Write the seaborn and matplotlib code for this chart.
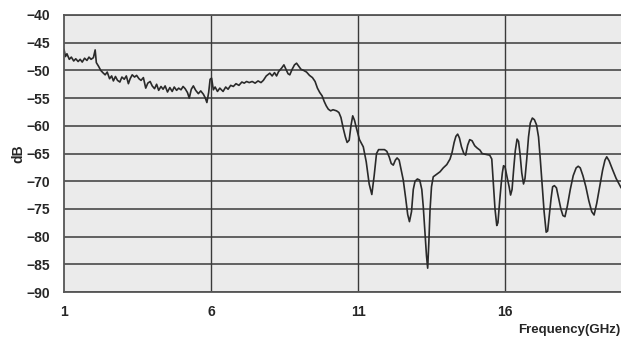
import numpy as np
import pandas as pd
import matplotlib
matplotlib.use("Agg")
import matplotlib.pyplot as plt
import seaborn as sns

freq = [1.00, 1.05, 1.10, 1.18, 1.25, 1.33, 1.40, 1.48, 1.55, 1.62, 1.70, 1.78,
        1.85, 1.92, 2.00, 2.06, 2.10, 2.18, 2.25, 2.32, 2.40, 2.47, 2.55, 2.62,
        2.68, 2.75, 2.82, 2.90, 2.97, 3.05, 3.12, 3.19, 3.25, 3.32, 3.40, 3.47,
        3.55, 3.62, 3.70, 3.78, 3.85, 3.93, 4.00, 4.08, 4.15, 4.22, 4.30, 4.37,
        4.44, 4.52, 4.60, 4.68, 4.75, 4.83, 4.90, 4.98, 5.05, 5.12, 5.20, 5.26,
        5.33, 5.40, 5.48, 5.57, 5.65, 5.74, 5.80, 5.86, 5.92, 5.97, 6.02, 6.08,
        6.14, 6.22, 6.30, 6.41, 6.50, 6.58, 6.67, 6.76, 6.85, 6.95, 7.05, 7.13,
        7.21, 7.30, 7.40, 7.50, 7.60, 7.70, 7.78, 7.88, 8.00, 8.08, 8.16, 8.23,
        8.30, 8.40, 8.48, 8.55, 8.62, 8.68, 8.76, 8.84, 8.91, 8.98, 9.06, 9.15,
        9.25, 9.35, 9.45, 9.54, 9.62, 9.70, 9.78, 9.85, 9.92, 9.99, 10.07, 10.15,
        10.27, 10.35, 10.42, 10.50, 10.57, 10.63, 10.70, 10.76, 10.82, 10.88, 10.95, 11.05,
        11.18, 11.28, 11.38, 11.47, 11.55, 11.63, 11.70, 11.80, 11.90, 11.98, 12.06, 12.13,
        12.20, 12.27, 12.33, 12.40, 12.47, 12.54, 12.62, 12.69, 12.75, 12.82, 12.88, 12.94,
        13.02, 13.10, 13.17, 13.22, 13.28, 13.33, 13.37, 13.41, 13.45, 13.50, 13.56, 13.66,
        13.79, 13.90, 14.02, 14.13, 14.20, 14.27, 14.33, 14.39, 14.45, 14.52, 14.60, 14.66,
        14.73, 14.80, 14.88, 14.97, 15.05, 15.15, 15.22, 15.30, 15.40, 15.48, 15.55, 15.60,
        15.66, 15.72, 15.76, 15.82, 15.87, 15.91, 15.95, 16.00, 16.04, 16.08, 16.14, 16.19,
        16.24, 16.30, 16.35, 16.41, 16.46, 16.51, 16.57, 16.63, 16.68, 16.74, 16.80, 16.86,
        16.93, 17.00, 17.07, 17.14, 17.20, 17.27, 17.33, 17.40, 17.45, 17.51, 17.57, 17.62,
        17.68, 17.75, 17.82, 17.90, 17.97, 18.04, 18.12, 18.22, 18.32, 18.42, 18.49, 18.56,
        18.65, 18.75, 18.85, 18.95, 19.03, 19.12, 19.22, 19.32, 19.40, 19.46, 19.54, 19.65,
        19.78, 19.95]
level_db = [-46.2, -47.5, -47.0, -48.0, -47.6, -48.3, -47.9, -48.4, -48.0, -48.5, -47.8, -48.2,
            -47.6, -48.0, -47.7, -46.3, -48.6, -49.3, -50.0, -50.4, -50.8, -50.3, -51.5, -51.0,
            -51.9, -51.1, -51.8, -52.1, -51.2, -51.6, -51.0, -52.4, -51.5, -50.8, -51.2, -50.9,
            -51.5, -51.8, -51.3, -53.2, -52.3, -52.0, -52.8, -53.3, -52.5, -53.6, -52.9, -53.4,
            -52.8, -53.9, -53.1, -53.8, -53.0, -53.6, -53.2, -53.5, -52.9, -53.3, -54.0, -55.0,
            -53.4, -52.8, -53.6, -54.2, -53.7, -54.3, -54.9, -55.8, -54.0, -51.6, -51.4, -53.5,
            -53.0, -53.8, -53.2, -53.8, -53.0, -53.4, -52.7, -52.9, -52.4, -52.7, -52.1, -52.3,
            -52.0, -52.2, -52.0, -52.3, -51.9, -52.2, -51.8, -51.0, -50.5, -51.0, -50.4, -51.0,
            -50.2, -49.6, -49.0, -49.8, -50.6, -50.8, -49.8, -49.0, -48.7, -49.2, -49.8, -50.0,
            -50.3, -50.9, -51.3, -52.0, -53.2, -54.0, -54.6, -55.6, -56.4, -57.0, -57.3, -57.1,
            -57.3, -57.6, -58.5, -60.5, -62.0, -63.0, -62.6, -60.0, -58.2, -59.0, -60.5, -62.5,
            -63.8, -66.5, -70.5, -72.4, -69.0, -65.0, -64.3, -64.3, -64.3, -64.6, -65.6, -66.8,
            -67.1, -66.2, -65.8, -66.2, -68.0, -69.8, -73.0, -76.0, -77.3, -75.5, -71.5, -70.0,
            -69.6, -69.8, -71.5, -74.6, -79.5, -83.5, -85.7, -81.0, -75.2, -71.0, -69.2, -68.8,
            -68.3, -67.6, -67.0, -66.0, -64.8, -63.0, -61.9, -61.5, -62.2, -63.8, -65.0, -65.3,
            -63.5, -62.5, -62.7, -63.6, -64.0, -64.4, -65.0, -65.1, -65.2, -65.3, -66.0, -70.0,
            -75.0, -78.0, -77.5, -73.5, -70.5, -68.5, -67.2, -67.4, -68.5, -69.5, -71.0, -72.5,
            -71.5, -67.5, -64.5, -62.4, -62.8, -65.0, -68.5, -70.5, -69.5, -66.0, -62.0, -59.5,
            -58.6, -58.9, -59.8, -62.0, -66.0, -71.0, -75.5, -79.2, -79.0, -76.0, -73.0, -71.0,
            -70.8, -71.2, -73.0, -75.0, -76.2, -76.4, -74.5, -71.5, -69.0, -67.6, -67.3, -67.6,
            -69.0, -71.0, -73.5, -75.5, -76.1, -74.0, -71.0, -68.0, -66.2, -65.6, -66.3, -67.8,
            -69.5, -71.2]

x_ticks = [1, 6, 11, 16]
y_ticks = list(range(-90, -35, 5))

df = pd.DataFrame({"freq": freq, "dB": level_db})

sns.set_style("white")
plt.rcParams["font.family"] = ["Liberation Sans", "DejaVu Sans"]

fig = plt.figure(figsize=(6.21, 3.38), dpi=100)
ax = fig.add_axes([64 / 621, 46 / 338, 557 / 621, 277 / 338])
ax.set_facecolor("#ebebeb")

sns.lineplot(data=df, x="freq", y="dB", ax=ax, color="#2a2a2a", linewidth=1.2)

ax.set_xlim(1, 1 + 557 / 29.4)
ax.set_ylim(-90, -40)
ax.set_xticks(x_ticks)
ax.set_yticks(y_ticks)
ax.set_xticklabels([str(t) for t in x_ticks], fontsize=10, fontweight="bold")
ax.set_yticklabels([f"\u2212{abs(t)}" for t in y_ticks], fontsize=10, fontweight="bold")
ax.tick_params(axis="y", length=0, pad=10)
ax.tick_params(axis="x", length=0, pad=9)

for y in y_ticks:
    ax.axhline(y, color="#555555", linewidth=1.3, zorder=1)
for x in x_ticks[1:]:
    ax.axvline(x, color="#3a3a3a", linewidth=1.0, zorder=1)

for side in ["left", "bottom", "top"]:
    ax.spines[side].set_color("#555555")
    ax.spines[side].set_linewidth(1.3)
ax.spines["right"].set_visible(False)

ax.set_xlabel("")
ax.set_ylabel("dB", fontsize=10, fontweight="bold")
ax.yaxis.set_label_coords(-(64 - 25) / 557, 0.5)
fig.text(620 / 621, 2 / 338, "Frequency(GHz)", ha="right", va="bottom",
         fontsize=9.5, fontweight="bold")

fig.savefig("out.png", dpi=100)
